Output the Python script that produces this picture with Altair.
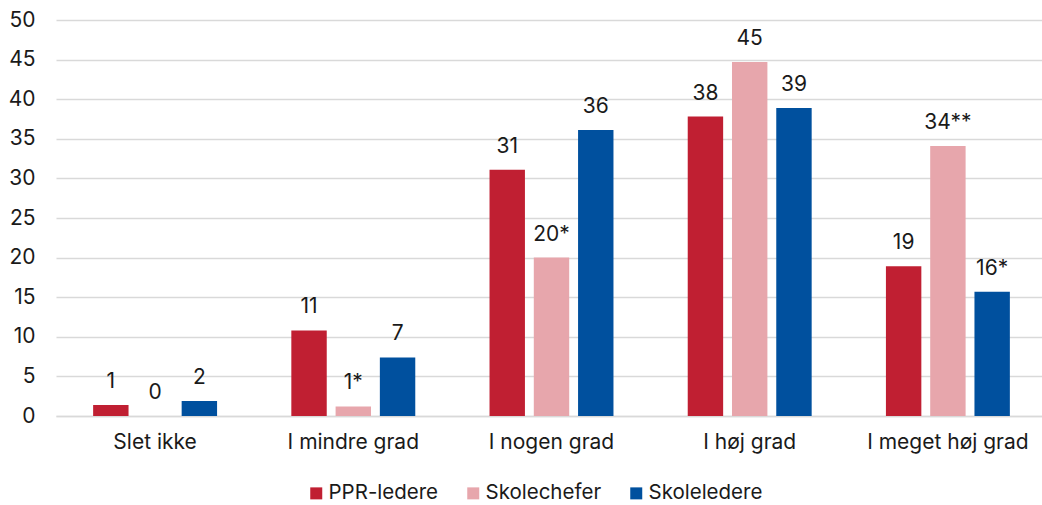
import altair as alt
import pandas as pd

# Answer categories and respondent groups
categories = ["Slet ikke", "I mindre grad", "I nogen grad", "I høj grad", "I meget høj grad"]
groups = ["PPR-ledere", "Skolechefer", "Skoleledere"]
colors = ["#C01F32", "#E7A6AC", "#00509E"]

# Share of respondents (%) per category
ppr_ledere = [1.4, 10.8, 31.1, 37.8, 18.9]
skolechefer = [0.0, 1.2, 20.0, 44.7, 34.1]
skoleledere = [1.9, 7.4, 36.1, 38.9, 15.7]

# Significance markers attached to the value labels
ppr_marks = ["", "", "", "", ""]
chef_marks = ["", "*", "*", "", "**"]
leder_marks = ["", "", "", "", "*"]

rows = []
for grp, vals, marks in zip(groups, [ppr_ledere, skolechefer, skoleledere],
                            [ppr_marks, chef_marks, leder_marks]):
    for cat, v, m in zip(categories, vals, marks):
        rows.append({"category": cat, "group": grp, "value": v,
                     "label": f"{round(v)}{m}"})
df = pd.DataFrame(rows)

FONT = "Inter"
FS = 21
LEG_FS = 20.5
TXT = "#1a1a1a"

base = alt.Chart(df).encode(
    x=alt.X("category:N", sort=categories, title=None,
            scale=alt.Scale(paddingInner=0.33, paddingOuter=0.165,
                            range=[0, 991]),
            axis=alt.Axis(labelAngle=0, labelFontSize=FS, labelPadding=15,
                          labelColor=TXT, ticks=False,
                          domainColor="#d9d9d9", domainWidth=1.5,
                          labelFont=FONT)),
    xOffset=alt.XOffset("group:N", sort=groups,
                        scale=alt.Scale(paddingInner=0.2, paddingOuter=0.1)),
    y=alt.Y("value:Q", title=None,
            scale=alt.Scale(domain=[0, 50], nice=False),
            axis=alt.Axis(values=list(range(0, 51, 5)), labelFontSize=FS,
                          labelPadding=21, labelColor=TXT, labelOverlap=False,
                          ticks=False, domain=False, gridColor="#d9d9d9",
                          gridWidth=1.5, labelFont=FONT)),
)

bars = base.mark_bar().encode(
    color=alt.Color("group:N", sort=groups, title=None,
                    scale=alt.Scale(domain=groups, range=colors),
                    legend=alt.Legend(orient="none", legendX=250, legendY=463,
                                      direction="horizontal", symbolType="square",
                                      symbolSize=144, symbolStrokeWidth=0,
                                      labelFontSize=LEG_FS, labelFont=FONT,
                                      labelColor=TXT, labelOffset=2,
                                      columnPadding=24)),
)

labels = base.mark_text(dy=-17, baseline="alphabetic", fontSize=FS,
                        font=FONT, color=TXT).encode(
    text="label:N",
)

chart = (bars + labels).properties(
    width=986, height=396,
    autosize=alt.AutoSizeParams(type="none"),
    padding={"left": 56, "top": 20, "right": 0, "bottom": 89},
).configure_view(stroke=None)

chart.save("out.html", embed_options={"renderer": "svg", "actions": False})
